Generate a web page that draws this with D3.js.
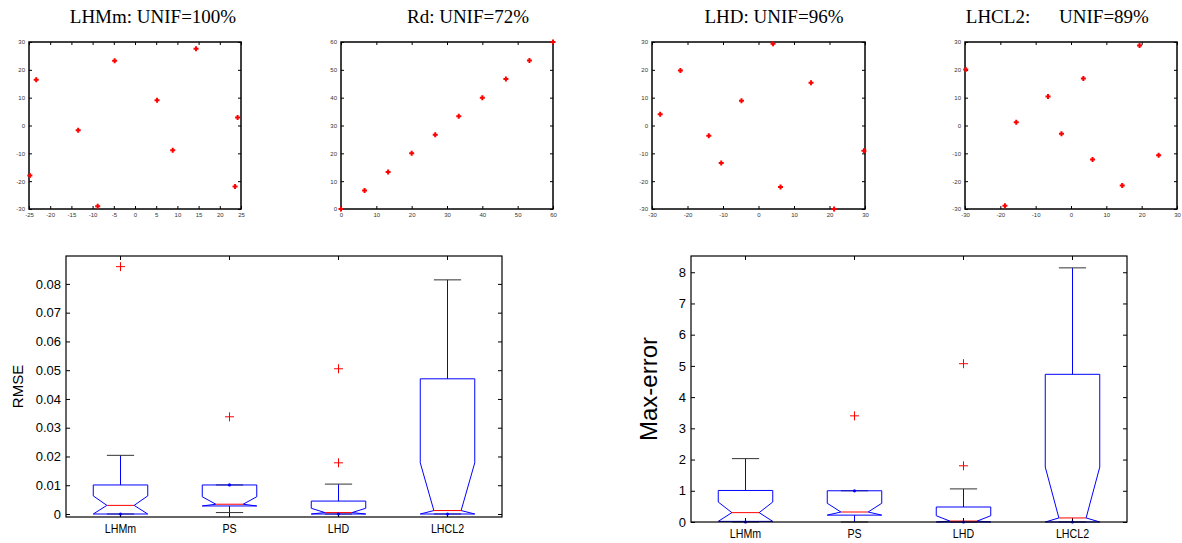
<!DOCTYPE html>
<html>
<head>
<meta charset="utf-8">
<script src="https://cdn.jsdelivr.net/npm/d3@7"></script>
<style>
  body { margin: 0; background: #fff; }
  svg { display: block; }
  .tick line { stroke: #000; }
</style>
</head>
<body>
<svg id="fig"></svg>
<script>
// --- scatter designs (10 points each) ---
const lhmmX = [-23.3, -4.8, 14.4, 5.2, -13.4, 24.2, 8.9, -24.8, -8.8, 23.6];
const lhmmY = [16.4, 23.3, 27.6, 9.1, -1.7, 2.9, -8.9, -18, -29, -21.9];
const rdX = [0, 6.67, 13.33, 20, 26.67, 33.33, 40, 46.67, 53.33, 60];
const rdY = [0, 6.67, 13.33, 20, 26.67, 33.33, 40, 46.67, 53.33, 60];
const lhdX = [-27.7, -22, 4.1, 14.8, -4.8, -14, -10.5, 6.2, 21.3, 29.7];
const lhdY = [4, 19.8, 29.4, 15.4, 8.9, -3.7, -13.5, -22.1, -30, -9.1];
const lhcl2X = [-29.8, 19.4, 3.5, -6.5, -15.5, -2.7, 6.1, 24.8, 14.5, -18.7];
const lhcl2Y = [20.1, 28.7, 16.9, 10.4, 1.2, -3, -12.2, -10.7, -21.6, -28.8];

const ticks25 = [-25, -20, -15, -10, -5, 0, 5, 10, 15, 20, 25];
const ticks30 = [-30, -20, -10, 0, 10, 20, 30];
const ticks60 = [0, 10, 20, 30, 40, 50, 60];

// --- boxplot stats ---
const categories = ['LHMm', 'PS', 'LHD', 'LHCL2'];

const rmseLo = [0, 0.0005, 0, 0];
const rmseQ1 = [0, 0.0028, 0, 0];
const rmseMed = [0.003, 0.0034, 0.0005, 0.0012];
const rmseQ3 = [0.0101, 0.0101, 0.0045, 0.047];
const rmseNotchHi = [0.0063, 0.006, 0.002, 0.0178];
const rmseHi = [0.0204, 0.0101, 0.0104, 0.0814];
const rmseDot = [0, 0.0101, 0, 0];
const rmseOutliers = [[0.086], [0.0338], [0.0505, 0.0178], []];
const rmseTicks = [0, 0.01, 0.02, 0.03, 0.04, 0.05, 0.06, 0.07, 0.08];

const maxLo = [0, 0, 0, 0];
const maxQ1 = [0.02, 0.22, 0, 0];
const maxMed = [0.3, 0.32, 0.03, 0.13];
const maxQ3 = [1.01, 1.0, 0.48, 4.73];
const maxNotchHi = [0.64, 0.6, 0.2, 1.76];
const maxHi = [2.03, 1.0, 1.06, 8.14];
const maxDot = [0, 1.0, 0, 0];
const maxOutliers = [[], [3.4], [5.07, 1.8], []];
const maxTicks = [0, 1, 2, 3, 4, 5, 6, 7, 8];

const W = 1182, H = 543;
const svg = d3.select('#fig').attr('width', W).attr('height', H);

function drawScatter(box, xs, ys, xDom, yDom, xt, yt) {
  const x = d3.scaleLinear().domain(xDom).range([box.x, box.x + box.w]);
  const y = d3.scaleLinear().domain(yDom).range([box.y + box.h, box.y]);
  const g = svg.append('g');
  const fmt = d => d;

  const axes = [
    [d3.axisBottom(x).tickValues(xt).tickFormat(fmt), `translate(0,${box.y + box.h})`],
    [d3.axisTop(x).tickValues(xt).tickFormat(''), `translate(0,${box.y})`],
    [d3.axisLeft(y).tickValues(yt).tickFormat(fmt), `translate(${box.x},0)`],
    [d3.axisRight(y).tickValues(yt).tickFormat(''), `translate(${box.x + box.w},0)`],
  ];
  axes.forEach(([ax, tr]) => {
    const a = g.append('g').attr('transform', tr)
      .call(ax.tickSizeInner(-3).tickSizeOuter(0).tickPadding(4));
    a.select('.domain').remove();
    a.selectAll('text').attr('font-family', 'Liberation Sans, Arial, sans-serif')
      .attr('font-size', '6px').attr('fill', '#333');
  });

  g.append('rect')
    .attr('x', box.x).attr('y', box.y).attr('width', box.w).attr('height', box.h)
    .attr('fill', 'none').attr('stroke', '#000').attr('stroke-width', 1.5);

  const pts = xs.map((v, i) => [x(v), y(ys[i])]);
  g.selectAll('path.pt').data(pts).enter().append('path')
    .attr('class', 'pt')
    .attr('d', d => `M${d[0] - 2.5},${d[1]}H${d[0] + 2.5}M${d[0]},${d[1] - 2.5}V${d[1] + 2.5}`)
    .attr('stroke', '#ff0000').attr('stroke-width', 2).attr('fill', 'none');
}

function drawTitle(txt, cx) {
  svg.append('text').attr('x', cx).attr('y', 23)
    .attr('text-anchor', 'middle')
    .attr('font-family', 'Liberation Serif, Times New Roman, serif')
    .attr('font-size', '19px').attr('fill', '#000')
    .text(txt);
}

drawScatter({ x: 29, y: 42, w: 212, h: 167 }, lhmmX, lhmmY, [-25, 25], [-30, 30], ticks25, ticks30);
drawScatter({ x: 341, y: 42, w: 212, h: 167 }, rdX, rdY, [0, 60], [0, 60], ticks60, ticks60);
drawScatter({ x: 652, y: 42, w: 213, h: 167 }, lhdX, lhdY, [-30, 30], [-30, 30], ticks30, ticks30);
drawScatter({ x: 965, y: 42, w: 212, h: 167 }, lhcl2X, lhcl2Y, [-30, 30], [-30, 30], ticks30, ticks30);

drawTitle('LHMm: UNIF=100%', 153);
drawTitle('Rd: UNIF=72%', 468);
drawTitle('LHD: UNIF=96%', 774);
drawTitle('LHCL2:', 998);
drawTitle('UNIF=89%', 1104);

function drawBox(box, yDom, yt, fmt, s, label, labelSize, labelX) {
  const x = d3.scaleBand().domain(categories).range([box.x, box.x + box.w]);
  const y = d3.scaleLinear().domain(yDom).range([box.y + box.h, box.y]);
  const bw = x.bandwidth();
  const g = svg.append('g');

  const axes = [
    [d3.axisBottom(x).tickFormat(''), `translate(0,${box.y + box.h})`],
    [d3.axisTop(x).tickFormat(''), `translate(0,${box.y})`],
    [d3.axisLeft(y).tickValues(yt).tickFormat(fmt), `translate(${box.x},0)`],
    [d3.axisRight(y).tickValues(yt).tickFormat(''), `translate(${box.x + box.w},0)`],
  ];
  axes.forEach(([ax, tr]) => {
    const a = g.append('g').attr('transform', tr)
      .call(ax.tickSizeInner(-4).tickSizeOuter(0).tickPadding(5));
    a.select('.domain').remove();
    a.selectAll('text').attr('font-family', 'Liberation Sans, Arial, sans-serif')
      .attr('fill', '#000').attr('font-size', '13px');
  });

  // condensed category labels
  g.selectAll('.cat').data(categories).enter().append('text')
    .attr('class', 'cat')
    .attr('transform', d => `translate(${x(d) + bw / 2},${box.y + box.h + 16}) scale(0.82,1)`)
    .attr('text-anchor', 'middle')
    .attr('font-family', 'Liberation Sans, Arial, sans-serif')
    .attr('font-size', '13px').attr('fill', '#000')
    .text(d => d);

  categories.forEach((c, i) => {
    const cx = x(c) + bw / 2;
    const x0 = cx - bw * 0.25, x1 = cx + bw * 0.25;
    const xi0 = cx - bw * 0.125, xi1 = cx + bw * 0.125;
    const nHi = s.notchHi[i];
    const nLo = Math.max(s.q1[i], s.med[i] - (nHi - s.med[i]));
    const poly = [
      [x0, s.q3[i]], [x0, nHi], [xi0, s.med[i]], [x0, nLo], [x0, s.q1[i]],
      [x1, s.q1[i]], [x1, nLo], [xi1, s.med[i]], [x1, nHi], [x1, s.q3[i]]
    ];
    // whiskers
    g.append('line').attr('x1', cx).attr('x2', cx)
      .attr('y1', y(s.q3[i])).attr('y2', y(s.hi[i]))
      .attr('stroke', '#0000ff').attr('stroke-width', 1);
    g.append('line').attr('x1', cx).attr('x2', cx)
      .attr('y1', y(s.q1[i])).attr('y2', y(s.lo[i]))
      .attr('stroke', '#0000ff').attr('stroke-width', 1);
    [s.hi[i], s.lo[i]].forEach(v => {
      g.append('line').attr('x1', cx - bw * 0.125).attr('x2', cx + bw * 0.125)
        .attr('y1', y(v)).attr('y2', y(v))
        .attr('stroke', '#333').attr('stroke-width', 1);
    });
    g.append('path')
      .attr('d', d3.line().x(d => d[0]).y(d => y(d[1]))(poly) + 'Z')
      .attr('fill', 'none').attr('stroke', '#0000ff').attr('stroke-width', 1);
    g.append('line').attr('x1', xi0).attr('x2', xi1)
      .attr('y1', y(s.med[i])).attr('y2', y(s.med[i]))
      .attr('stroke', '#ff0000').attr('stroke-width', 1);
    g.append('circle').attr('cx', cx).attr('cy', y(s.dot[i])).attr('r', 1.6)
      .attr('fill', '#0000ff');
    s.out[i].forEach(v => {
      const py = y(v);
      g.append('path')
        .attr('d', `M${cx - 4.5},${py}H${cx + 4.5}M${cx},${py - 4.5}V${py + 4.5}`)
        .attr('stroke', '#ff0000').attr('stroke-width', 1).attr('fill', 'none');
    });
  });

  g.append('rect')
    .attr('x', box.x).attr('y', box.y).attr('width', box.w).attr('height', box.h)
    .attr('fill', 'none').attr('stroke', '#000').attr('stroke-width', 1.2);

  const ly = box.y + box.h / 2;
  g.append('text')
    .attr('transform', `translate(${labelX},${ly}) rotate(-90)`)
    .attr('text-anchor', 'middle')
    .attr('font-family', 'Liberation Sans, Arial, sans-serif')
    .attr('font-size', labelSize).attr('fill', '#000')
    .text(label);
}

drawBox({ x: 66, y: 256, w: 436, h: 261 }, [-0.00104, 0.0897], rmseTicks,
  d => d === 0 ? '0' : d3.format('.2f')(d),
  { lo: rmseLo, q1: rmseQ1, med: rmseMed, q3: rmseQ3, notchHi: rmseNotchHi, hi: rmseHi, dot: rmseDot, out: rmseOutliers },
  'RMSE', '15px', 23);

drawBox({ x: 691, y: 256, w: 436, h: 266 }, [0, 8.52], maxTicks,
  d => d,
  { lo: maxLo, q1: maxQ1, med: maxMed, q3: maxQ3, notchHi: maxNotchHi, hi: maxHi, dot: maxDot, out: maxOutliers },
  'Max-error', '24px', 657);
</script>
</body>
</html>
